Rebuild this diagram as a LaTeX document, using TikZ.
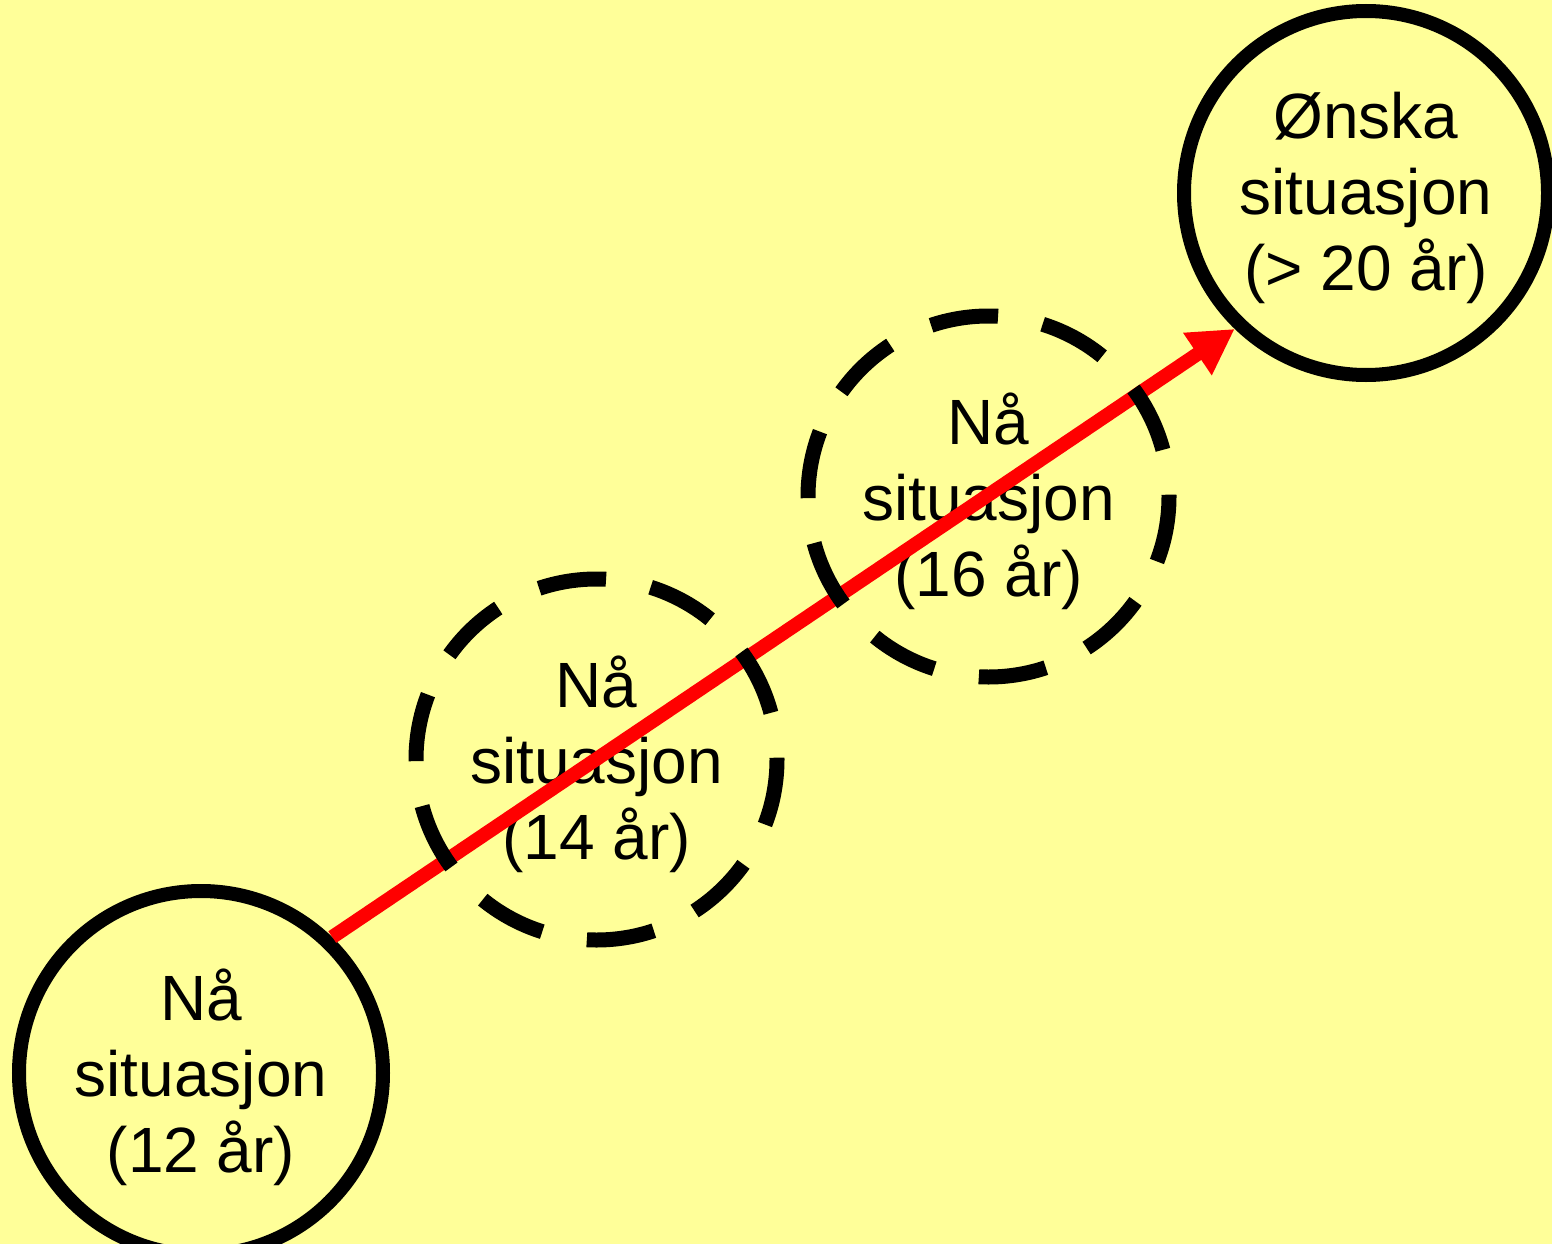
\documentclass[tikz,border=0pt]{standalone}
\usepackage{fontspec}
\setmainfont{Liberation Sans}
\usetikzlibrary{arrows.meta}
\definecolor{bgyellow}{RGB}{255,255,153}
\definecolor{arrred}{RGB}{255,0,0}
\begin{document}
\begin{tikzpicture}[x=1pt,y=-1pt,
  solidcirc/.style={circle,draw=black,line width=14pt,minimum size=364pt,inner sep=0pt,outer sep=7pt},
  dashcirc/.style={circle,draw=black,line width=15pt,minimum size=361pt,inner sep=0pt,outer sep=7.5pt,
     dash pattern=on 68pt off 45.4pt,dash phase=66.2pt},
  txt/.style={align=center,inner sep=0pt,yshift=-4.5pt,font=\fontsize{64}{76}\selectfont},
  arr/.style={draw=arrred,line width=14pt,-{Triangle[length=45pt,width=48pt]},arrred}]
\fill[bgyellow] (0,0) rectangle (1552,1244);
\useasboundingbox (0,0) rectangle (1552,1244);
\node[solidcirc] (a) at (201,1073) {};
\node[solidcirc] (b) at (1366,193) {};
\node[txt] (ta) at (a.center) {Nå\\situasjon\\(12 år)};
\node[txt] (tb) at (b.center) {Ønska\\situasjon\\(> 20 år)};
\node[txt] (t14) at (596.5,759.5) {Nå\\situasjon\\(14 år)};
\node[txt] (t16) at (988.5,496.5) {Nå\\situasjon\\(16 år)};
\draw[arr] (a.46) -- (b.226.5);
\node[dashcirc] (c14) at (596.5,759.5) {};
\node[dashcirc] (c16) at (988.5,496.5) {};
\end{tikzpicture}
\end{document}
